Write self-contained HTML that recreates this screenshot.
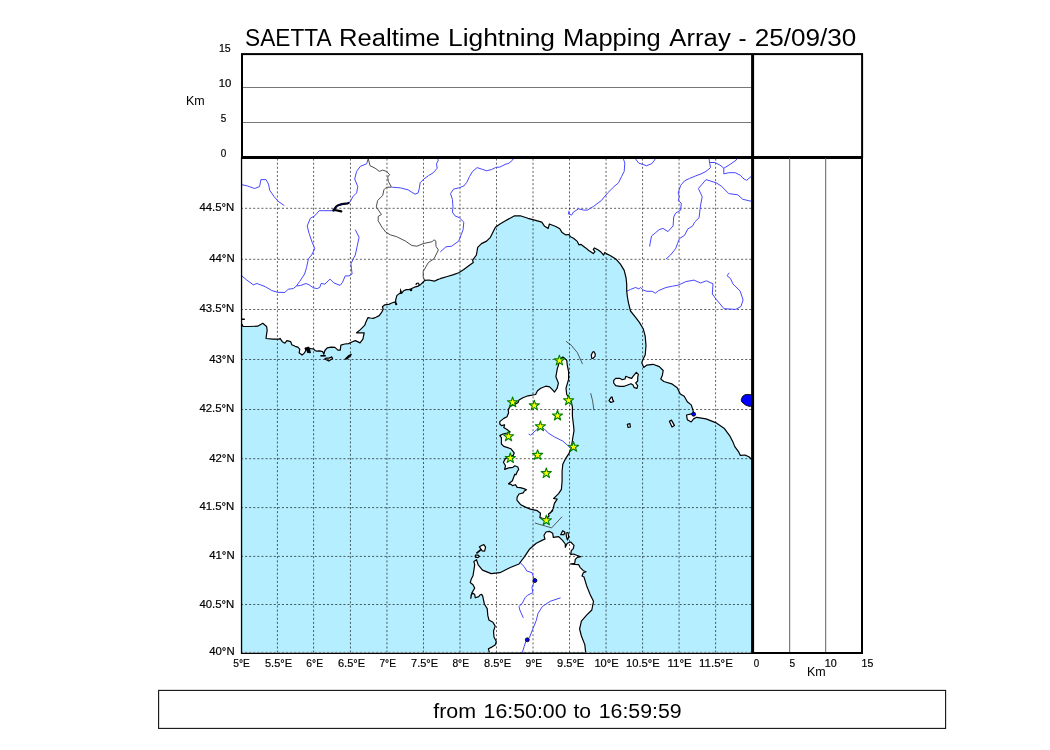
<!DOCTYPE html>
<html><head><meta charset="utf-8"><style>
html,body{margin:0;padding:0;background:#fff;}
svg{display:block;}
text{font-family:"Liberation Sans",sans-serif;fill:#000;}
text.s{stroke:#000;stroke-width:0.2px;}
</style></head><body>
<svg width="1050" height="750" viewBox="0 0 1050 750">
<clipPath id="mc"><rect x="240.9" y="156.9" width="511.30000000000007" height="495.70000000000005"/></clipPath>
<g clip-path="url(#mc)">
<rect x="240.9" y="156.9" width="511.30000000000007" height="495.70000000000005" fill="#fff"/>
<path d="M241.5,323.5 L243.0,326.4 L247.6,326.5 L257.7,326.2 L262.8,323.3 L266.6,326.5 L267.2,330.3 L266.6,334.1 L266.0,338.5 L272.9,339.1 L279.3,339.1 L280.0,338.3 L282.3,341.7 L284.9,343.2 L286.9,340.6 L290.7,341.7 L291.8,344.8 L295.2,346.3 L297.9,347.1 L299.8,349.3 L299.1,352.8 L302.1,355.1 L304.4,352.8 L305.9,350.5 L305.1,348.2 L308.2,347.8 L310.5,348.6 L313.5,348.9 L315.1,350.5 L316.6,351.2 L319.6,350.9 L322.7,351.6 L323.8,354.3 L324.9,350.5 L327.2,347.8 L331.1,347.1 L334.9,347.4 L337.9,350.1 L340.2,350.1 L340.9,345.1 L344.8,344.0 L348.6,343.6 L352.4,341.7 L355.4,340.6 L358.5,342.1 L360.0,342.9 L362.9,339.1 L364.2,332.8 L356.6,332.8 L360.4,329.6 L364.8,325.2 L365.6,322.8 L368.0,317.6 L370.4,318.0 L373.2,318.4 L376.0,317.2 L379.2,315.6 L381.6,312.4 L383.2,309.2 L382.4,306.8 L384.8,304.8 L388.8,304.4 L391.2,303.2 L394.4,302.0 L396.0,303.6 L395.6,300.4 L396.8,295.6 L399.2,293.6 L401.6,293.2 L403.6,290.8 L406.4,289.6 L408.8,289.6 L411.2,288.8 L414.4,287.2 L417.6,286.4 L420.8,284.4 L423.2,282.0 L424.8,280.4 L428.8,280.0 L434.4,281.2 L437.6,279.6 L440.0,278.8 L441.0,278.4 L447.3,276.5 L453.6,274.6 L458.7,272.7 L463.8,269.6 L468.8,265.8 L473.3,262.6 L472.6,260.1 L476.4,255.0 L477.7,247.4 L481.5,243.6 L486.6,241.1 L490.4,237.3 L492.9,232.2 L495.4,227.2 L500.0,224.0 L507.6,219.6 L514.6,215.8 L520.3,215.8 L527.9,218.3 L532.9,219.6 L541.8,222.1 L544.3,225.9 L548.2,228.4 L549.4,224.0 L555.8,226.5 L559.8,228.8 L562.1,232.6 L565.9,234.9 L569.0,234.5 L570.5,236.8 L573.5,238.3 L577.3,241.4 L578.9,244.8 L581.1,244.4 L585.7,247.9 L588.8,250.5 L593.3,253.6 L594.9,251.7 L593.3,249.4 L594.5,247.9 L597.9,249.8 L601.0,252.1 L603.6,255.1 L604.8,252.4 L606.3,253.6 L610.1,255.5 L616.2,259.3 L620.4,264.1 L624.2,270.4 L626.1,278.0 L626.7,284.3 L626.7,290.7 L627.4,297.0 L628.6,303.4 L630.5,311.0 L635.6,317.3 L639.4,322.4 L643.2,328.7 L645.2,336.2 L646.0,345.6 L645.2,355.0 L642.9,359.6 L641.8,362.7 L643.7,367.4 L646.8,365.1 L653.0,364.3 L659.3,366.6 L663.2,370.5 L662.4,375.2 L660.8,379.1 L663.9,381.5 L671.7,383.8 L677.2,387.7 L680.3,393.9 L684.2,396.3 L687.3,401.7 L691.2,404.9 L692.8,409.5 L693.6,413.4 L686.5,415.0 L687.3,419.7 L691.2,422.0 L693.6,418.9 L696.7,417.3 L706.0,418.9 L715.6,422.6 L724.4,428.6 L730.0,436.2 L733.2,442.6 L734.8,446.6 L738.8,452.2 L740.4,455.4 L745.2,455.0 L749.2,457.0 L751.6,459.4 L753.0,460.0 L760.0,460.0 L760.0,660.0 L230.0,660.0 L230.0,326.5 Z" fill="#b5eeff" stroke="none"/>
<path d="M562.9,357.1 L564.8,358.4 L566.7,360.3 L567.3,365.3 L568.6,371.7 L568.6,379.3 L566.0,388.2 L566.7,394.5 L571.1,400.8 L572.4,407.2 L572.4,416.0 L573.6,426.2 L574.0,430.6 L572.6,439.0 L571.2,448.8 L568.4,454.4 L565.6,458.6 L562.8,464.2 L562.1,471.2 L562.1,481.0 L561.4,489.4 L558.6,493.6 L555.8,496.4 L553.7,498.5 L557.2,499.2 L554.4,503.4 L553.0,509.0 L550.2,513.2 L552.7,510.7 L548.5,513.9 L549.0,516.0 L546.0,519.0 L542.6,518.3 L539.9,517.6 L540.5,513.3 L537.3,510.7 L530.3,509.1 L525.0,506.9 L520.8,504.8 L517.3,500.6 L516.9,500.0 L517.2,497.0 L519.0,494.0 L523.2,492.8 L524.4,491.0 L526.5,489.8 L523.8,488.6 L520.2,487.7 L517.2,487.4 L515.4,484.7 L512.4,485.6 L511.2,484.4 L508.5,483.8 L512.4,480.8 L513.0,479.0 L514.8,474.2 L516.0,474.8 L517.2,471.8 L518.7,469.4 L517.8,467.0 L514.8,465.8 L513.0,467.3 L508.8,467.9 L504.6,469.4 L505.5,465.8 L503.4,462.2 L505.4,458.6 L513.4,455.2 L514.2,452.8 L511.0,448.8 L503.8,446.4 L501.4,444.0 L501.4,437.6 L499.8,435.6 L503.0,434.0 L507.0,433.0 L510.2,432.0 L507.0,429.6 L503.8,427.6 L504.6,424.8 L501.4,425.6 L499.8,424.0 L499.8,421.6 L503.8,418.4 L507.0,416.8 L508.6,412.8 L508.2,409.6 L510.2,406.4 L514.2,404.8 L518.2,402.4 L519.0,400.0 L522.9,397.7 L528.0,395.8 L535.6,394.5 L537.5,390.7 L540.7,388.2 L545.8,386.2 L549.6,386.9 L552.1,389.4 L554.6,392.0 L557.2,388.2 L558.4,383.1 L555.9,376.7 L557.2,369.1 L559.1,362.8 L560.3,359.0 Z" fill="#fff" stroke="none"/>
<path d="M489.5,653.0 L489.5,652.8 L488.4,648.8 L491.8,647.1 L495.2,644.9 L496.3,641.5 L494.0,636.9 L493.5,631.2 L495.2,626.1 L492.9,622.2 L488.9,619.9 L487.8,615.4 L487.2,608.6 L484.4,604.0 L482.7,596.1 L481.6,594.4 L479.9,595.0 L478.7,596.6 L475.3,597.8 L474.7,594.4 L473.0,593.2 L471.3,594.4 L470.8,598.4 L471.9,592.7 L474.7,588.1 L473.0,584.7 L470.2,582.5 L471.3,579.1 L473.0,575.7 L473.9,570.1 L474.7,564.9 L473.9,561.4 L476.5,559.7 L478.2,564.9 L482.5,570.1 L491.2,573.6 L499.9,572.7 L510.3,567.5 L519.0,564.0 L524.2,557.1 L529.4,549.3 L536.3,543.2 L545.0,538.9 L544.7,538.0 L544.0,535.3 L546.0,532.0 L549.3,531.3 L552.7,533.3 L553.3,537.3 L558.7,536.7 L562.7,540.7 L565.3,544.0 L565.3,547.3 L567.3,543.3 L570.7,542.0 L574.0,545.3 L573.3,548.7 L571.3,550.7 L570.7,554.7 L573.3,554.0 L576.7,555.3 L580.7,556.7 L577.3,557.3 L575.3,559.3 L574.7,563.3 L570.0,564.0 L574.7,564.3 L578.7,564.7 L580.0,567.3 L583.3,570.7 L586.0,571.7 L583.3,572.7 L582.0,576.0 L584.0,577.0 L586.6,585.7 L590.1,594.4 L593.5,601.3 L591.8,610.0 L586.6,615.2 L581.4,621.2 L579.6,629.0 L581.4,636.0 L584.8,644.6 L585.7,652.6 Z" fill="#fff" stroke="none"/>
<path d="M613.7,380.3 L615.7,378.3 L619.7,378.3 L622.3,379.7 L625.0,379.0 L625.7,376.3 L628.3,377.3 L631.7,378.3 L633.0,376.3 L636.3,372.3 L638.3,374.3 L637.7,377.7 L637.7,381.0 L635.7,383.0 L637.7,385.7 L637.0,388.3 L634.3,387.7 L633.0,385.0 L631.0,383.7 L627.7,385.0 L624.3,386.3 L619.7,386.3 L615.7,385.7 L613.7,383.0 Z" fill="#fff" stroke="none"/>
<path d="M482.2,545.2 L483.8,544.6 L485.6,547.2 L484.6,551.2 L482.2,550.8 L481.0,549.2 L479.4,546.8 Z" fill="#fff" stroke="none"/>
<path d="M475.4,555.2 L478.2,555.2 L479.4,556.4 L477.8,557.6 L475.4,557.2 Z" fill="#fff" stroke="none"/>
<path d="M560.7,534.7 L562.7,530.7 L564.7,532.0 L564.0,534.7 Z" fill="#fff" stroke="none"/>
<path d="M566.0,533.0 L568.0,532.5 L568.7,537.0 L567.5,540.0 L566.5,537.0 Z" fill="#fff" stroke="none"/>
<path d="M591.7,358.3 L591.3,355.0 L592.7,352.0 L594.0,351.7 L595.3,354.0 L595.0,356.3 L593.0,358.3 Z" fill="#fff" stroke="none"/>
<path d="M609.0,400.5 L610.9,402.5 L613.7,401.4 L612.5,399.4 L612.2,397.1 L611.2,397.1 Z" fill="#fff" stroke="none"/>
<path d="M627.3,424.3 L628.1,427.5 L630.4,427.0 L629.9,423.6 Z" fill="#fff" stroke="none"/>
<path d="M669.4,421.2 L672.0,427.0 L674.4,425.4 L671.4,420.1 Z" fill="#fff" stroke="none"/>
<path d="M324.9,358.9 L328.8,361.1 L332.6,358.5 L331.8,356.9 L329.1,358.1 L326.5,358.1 Z" fill="#fff" stroke="none"/>
<path d="M345.1,359.2 L348.6,355.8 L351.2,354.4 L350.5,355.8 L346.7,359.0 Z" fill="#fff" stroke="none"/>
<path d="M277.42,652.6 L277.42,156.9 M313.60,652.6 L313.60,156.9 M350.44,652.6 L350.44,156.9 M386.96,652.6 L386.96,156.9 M423.48,652.6 L423.48,156.9 M459.99,652.6 L459.99,156.9 M496.50,652.6 L496.50,156.9 M533.02,652.6 L533.02,156.9 M569.53,652.6 L569.53,156.9 M606.05,652.6 L606.05,156.9 M642.57,652.6 L642.57,156.9 M679.08,652.6 L679.08,156.9 M715.60,652.6 L715.60,156.9 M240.9,652.40 L752.2,652.40 M240.9,604.50 L752.2,604.50 M240.9,556.40 L752.2,556.40 M240.9,507.60 L752.2,507.60 M240.9,458.70 L752.2,458.70 M240.9,409.50 L752.2,409.50 M240.9,359.50 L752.2,359.50 M240.9,309.50 L752.2,309.50 M240.9,259.30 L752.2,259.30 M240.9,208.30 L752.2,208.30" fill="none" stroke="#000" stroke-opacity="0.62" stroke-width="1" stroke-dasharray="2.05,2.05"/>
<path d="M241.9,184.7 L247.6,186.0 L254.6,188.5 L259.6,186.6 L260.9,179.6 L266.0,179.6 L268.5,184.1 L269.8,190.4 L274.2,196.7 L278.0,201.2 L284.3,205.6" fill="none" stroke="#4747ff" stroke-width="1" stroke-linejoin="round"/>
<path d="M368.5,157.5 L366.7,163.8 L360.4,166.3 L356.6,171.4 L354.7,179.0 L357.8,186.6 L356.6,192.9 L352.8,196.7 L350.2,201.8 L348.6,202.9" fill="none" stroke="#4747ff" stroke-width="1" stroke-linejoin="round"/>
<path d="M334.4,210.7 L323.6,210.7 L319.2,210.7 L314.8,215.8 L310.3,218.3 L307.2,225.9 L309.1,233.5 L312.2,242.4 L314.8,248.7 L311.6,255.0 L308.4,258.8 L306.5,267.7 L304.6,274.0 L299.6,281.6 L296.4,286.0" fill="none" stroke="#4747ff" stroke-width="1" stroke-linejoin="round"/>
<path d="M241.9,275.9 L246.3,279.7 L253.3,284.8 L257.1,283.5 L265.3,286.7 L271.7,290.5 L278.0,292.4 L285.0,292.4 L288.2,289.2 L293.2,288.6 L296.4,286.0 L300.8,285.4 L305.9,283.5 L309.1,284.8 L313.5,287.9 L317.3,288.6 L319.8,287.3 L321.1,283.5 L324.9,284.1 L330.0,279.1 L333.8,282.9 L340.1,285.4 L342.6,282.2 L345.2,275.9 L349.0,275.9 L352.1,274.0 L351.5,268.9 L350.9,263.9 L354.0,257.5 L355.3,255.0 L357.2,246.2 L359.1,237.3 L355.3,229.7" fill="none" stroke="#4747ff" stroke-width="1" stroke-linejoin="round"/>
<path d="M438.4,160.0 L436.5,163.8 L437.2,168.2 L433.4,172.7 L428.3,175.8 L423.9,179.0 L420.1,182.8 L419.4,187.9 L418.2,192.9 L415.0,194.2 L408.0,189.8 L400.4,187.9 L392.2,187.2" fill="none" stroke="#4747ff" stroke-width="1" stroke-linejoin="round"/>
<path d="M436.5,157.5 L438.4,160.0" fill="none" stroke="#4747ff" stroke-width="1" stroke-linejoin="round"/>
<path d="M440.3,251.9 L446.0,246.8 L451.7,246.2 L458.7,241.1 L461.2,234.8 L463.1,229.7 L463.8,222.1 L459.3,217.7 L454.9,215.8 L452.4,212.0 L453.0,206.9 L452.4,199.3 L450.5,193.6 L453.6,189.1 L458.7,187.9 L463.8,186.0 L466.9,182.2 L469.5,176.5 L472.6,171.4 L477.1,167.6 L482.8,169.5 L486.6,170.8 L491.6,169.5 L495.4,167.6 L500.0,167.0 L505.1,164.4 L508.9,163.2 L512.7,160.0 L513.5,157.5" fill="none" stroke="#4747ff" stroke-width="1" stroke-linejoin="round"/>
<path d="M623.0,157.5 L624.8,163.2 L624.2,171.4 L621.6,176.5 L618.5,182.8 L614.0,186.6 L607.7,192.9 L601.4,200.5 L593.8,206.2 L587.4,210.1 L583.6,210.1 L578.6,208.8 L573.5,212.0 L571.6,215.1 L568.4,213.9 L569.1,210.7" fill="none" stroke="#4747ff" stroke-width="1" stroke-linejoin="round"/>
<path d="M634.5,157.5 L636.3,160.0 L638.9,163.2 L646.5,165.7 L651.5,163.8 L654.7,160.0 L655.5,157.5" fill="none" stroke="#4747ff" stroke-width="1" stroke-linejoin="round"/>
<path d="M709.0,157.5 L709.2,160.0 L709.8,163.8 L710.5,167.6 L706.0,171.4 L701.0,173.9 L695.9,175.8 L689.6,178.4 L684.5,180.9 L680.7,185.3 L678.2,192.9 L679.4,196.7 L678.2,200.5 L681.3,203.1 L680.7,210.1 L675.6,213.2 L673.7,217.0 L673.1,225.9 L668.0,231.6 L662.9,228.4 L659.1,229.7 L655.3,232.9 L651.5,236.0 L649.6,246.2 L650.2,246.3" fill="none" stroke="#4747ff" stroke-width="1" stroke-linejoin="round"/>
<path d="M709.2,162.5 L714.9,162.5 L720.0,165.1 L723.8,168.2 L723.8,173.9 L728.8,172.7 L735.2,172.7 L740.2,175.2 L744.0,179.0 L746.6,180.3 L751.0,176.5" fill="none" stroke="#4747ff" stroke-width="1" stroke-linejoin="round"/>
<path d="M723.8,168.2 L730.1,164.4 L736.4,160.0 L737.0,157.5" fill="none" stroke="#4747ff" stroke-width="1" stroke-linejoin="round"/>
<path d="M751.0,201.2 L742.8,199.3 L737.7,194.8 L728.8,193.6 L721.2,186.0 L716.2,182.8 L706.0,179.6 L698.4,188.5 L702.2,196.7 L700.3,206.9 L699.1,217.7 L694.6,222.1 L692.7,225.9 L687.7,229.1 L684.5,235.4 L679.4,238.6 L677.5,243.6 L675.6,248.7 L670.5,255.0 L666.0,259.0" fill="none" stroke="#4747ff" stroke-width="1" stroke-linejoin="round"/>
<path d="M626.7,291.3 L630.5,289.4 L635.6,287.5 L638.8,288.8 L640.7,287.5 L643.2,290.1 L647.0,291.3 L652.1,291.3 L655.3,293.2 L658.4,290.7 L666.0,287.5 L672.4,286.2 L678.7,285.0 L685.9,281.6 L693.9,280.1 L700.6,283.0 L706.4,280.8 L713.0,283.8 L712.3,294.0 L716.7,299.9 L724.0,308.7 L735.8,309.4 L740.9,306.5 L743.1,299.9 L740.2,291.1 L732.8,283.8 L730.6,278.6 L727.0,275.7 L729.2,272.8" fill="none" stroke="#4747ff" stroke-width="1" stroke-linejoin="round"/>
<path d="M540.4,426.2 L544.5,429.3 L548.8,433.4 L554.4,436.9 L562.8,441.1 L568.4,446.0 L571.2,448.8" fill="none" stroke="#4747ff" stroke-width="1" stroke-linejoin="round"/>
<path d="M528.6,434.0 L530.6,435.2 L536.6,429.6 L540.4,426.2" fill="none" stroke="#4747ff" stroke-width="1" stroke-linejoin="round"/>
<path d="M519.8,562.3 L524.2,566.6 L526.8,571.0 L532.0,572.7 L534.6,580.5 L532.0,587.4 L532.8,592.6 L527.6,595.2 L525.0,597.8 L522.4,603.0 L519.0,606.5 L519.8,610.0 L523.3,617.8" fill="none" stroke="#4747ff" stroke-width="1" stroke-linejoin="round"/>
<path d="M560.6,597.8 L550.2,601.3 L542.4,606.5 L538.0,613.4 L536.3,620.4 L532.8,629.0 L529.4,637.7 L525.9,641.2 L524.2,646.4 L522.4,652.4 L520.5,652.6" fill="none" stroke="#4747ff" stroke-width="1" stroke-linejoin="round"/>
<path d="M368.0,157.5 L370.0,165.7 L375.1,168.2 L379.5,171.4 L382.7,170.1 L386.5,171.4 L389.6,174.6 L387.7,177.1 L388.4,181.5 L391.5,187.2 L386.5,187.2 L383.9,189.8 L382.7,195.5 L377.6,200.5 L376.3,206.9 L381.4,214.5 L378.2,216.4 L378.2,220.8 L382.0,227.2 L385.8,232.2 L390.3,234.8 L396.6,236.7 L405.5,241.1 L411.8,245.5 L416.9,246.2 L423.2,243.6 L432.1,241.7 L434.0,239.8 L435.9,241.1 L435.9,246.2 L438.4,250.0 L435.9,255.0 L434.0,258.8 L428.3,262.6 L425.8,267.0 L423.2,271.5 L423.2,277.2 L425.1,280.3" fill="none" stroke="#3a3a3a" stroke-width="0.9" stroke-linejoin="round"/>
<path d="M241.5,323.5 L243.0,326.4 L247.6,326.5 L257.7,326.2 L262.8,323.3 L266.6,326.5 L267.2,330.3 L266.6,334.1 L266.0,338.5 L272.9,339.1 L279.3,339.1 L280.0,338.3 L282.3,341.7 L284.9,343.2 L286.9,340.6 L290.7,341.7 L291.8,344.8 L295.2,346.3 L297.9,347.1 L299.8,349.3 L299.1,352.8 L302.1,355.1 L304.4,352.8 L305.9,350.5 L305.1,348.2 L308.2,347.8 L310.5,348.6 L313.5,348.9 L315.1,350.5 L316.6,351.2 L319.6,350.9 L322.7,351.6 L323.8,354.3 L324.9,350.5 L327.2,347.8 L331.1,347.1 L334.9,347.4 L337.9,350.1 L340.2,350.1 L340.9,345.1 L344.8,344.0 L348.6,343.6 L352.4,341.7 L355.4,340.6 L358.5,342.1 L360.0,342.9 L362.9,339.1 L364.2,332.8 L356.6,332.8 L360.4,329.6 L364.8,325.2 L365.6,322.8 L368.0,317.6 L370.4,318.0 L373.2,318.4 L376.0,317.2 L379.2,315.6 L381.6,312.4 L383.2,309.2 L382.4,306.8 L384.8,304.8 L388.8,304.4 L391.2,303.2 L394.4,302.0 L396.0,303.6 L395.6,300.4 L396.8,295.6 L399.2,293.6 L401.6,293.2 L403.6,290.8 L406.4,289.6 L408.8,289.6 L411.2,288.8 L414.4,287.2 L417.6,286.4 L420.8,284.4 L423.2,282.0 L424.8,280.4 L428.8,280.0 L434.4,281.2 L437.6,279.6 L440.0,278.8 L441.0,278.4 L447.3,276.5 L453.6,274.6 L458.7,272.7 L463.8,269.6 L468.8,265.8 L473.3,262.6 L472.6,260.1 L476.4,255.0 L477.7,247.4 L481.5,243.6 L486.6,241.1 L490.4,237.3 L492.9,232.2 L495.4,227.2 L500.0,224.0 L507.6,219.6 L514.6,215.8 L520.3,215.8 L527.9,218.3 L532.9,219.6 L541.8,222.1 L544.3,225.9 L548.2,228.4 L549.4,224.0 L555.8,226.5 L559.8,228.8 L562.1,232.6 L565.9,234.9 L569.0,234.5 L570.5,236.8 L573.5,238.3 L577.3,241.4 L578.9,244.8 L581.1,244.4 L585.7,247.9 L588.8,250.5 L593.3,253.6 L594.9,251.7 L593.3,249.4 L594.5,247.9 L597.9,249.8 L601.0,252.1 L603.6,255.1 L604.8,252.4 L606.3,253.6 L610.1,255.5 L616.2,259.3 L620.4,264.1 L624.2,270.4 L626.1,278.0 L626.7,284.3 L626.7,290.7 L627.4,297.0 L628.6,303.4 L630.5,311.0 L635.6,317.3 L639.4,322.4 L643.2,328.7 L645.2,336.2 L646.0,345.6 L645.2,355.0 L642.9,359.6 L641.8,362.7 L643.7,367.4 L646.8,365.1 L653.0,364.3 L659.3,366.6 L663.2,370.5 L662.4,375.2 L660.8,379.1 L663.9,381.5 L671.7,383.8 L677.2,387.7 L680.3,393.9 L684.2,396.3 L687.3,401.7 L691.2,404.9 L692.8,409.5 L693.6,413.4 L686.5,415.0 L687.3,419.7 L691.2,422.0 L693.6,418.9 L696.7,417.3 L706.0,418.9 L715.6,422.6 L724.4,428.6 L730.0,436.2 L733.2,442.6 L734.8,446.6 L738.8,452.2 L740.4,455.4 L745.2,455.0 L749.2,457.0 L751.6,459.4 L753.0,460.0" fill="none" stroke="#000" stroke-width="1.2" stroke-linejoin="round"/>
<path d="M241.5,319.2 L244.8,319.2" stroke="#000" stroke-width="1.4"/>
<path d="M562.9,357.1 L564.8,358.4 L566.7,360.3 L567.3,365.3 L568.6,371.7 L568.6,379.3 L566.0,388.2 L566.7,394.5 L571.1,400.8 L572.4,407.2 L572.4,416.0 L573.6,426.2 L574.0,430.6 L572.6,439.0 L571.2,448.8 L568.4,454.4 L565.6,458.6 L562.8,464.2 L562.1,471.2 L562.1,481.0 L561.4,489.4 L558.6,493.6 L555.8,496.4 L553.7,498.5 L557.2,499.2 L554.4,503.4 L553.0,509.0 L550.2,513.2 L552.7,510.7 L548.5,513.9 L549.0,516.0 L546.0,519.0 L542.6,518.3 L539.9,517.6 L540.5,513.3 L537.3,510.7 L530.3,509.1 L525.0,506.9 L520.8,504.8 L517.3,500.6 L516.9,500.0 L517.2,497.0 L519.0,494.0 L523.2,492.8 L524.4,491.0 L526.5,489.8 L523.8,488.6 L520.2,487.7 L517.2,487.4 L515.4,484.7 L512.4,485.6 L511.2,484.4 L508.5,483.8 L512.4,480.8 L513.0,479.0 L514.8,474.2 L516.0,474.8 L517.2,471.8 L518.7,469.4 L517.8,467.0 L514.8,465.8 L513.0,467.3 L508.8,467.9 L504.6,469.4 L505.5,465.8 L503.4,462.2 L505.4,458.6 L513.4,455.2 L514.2,452.8 L511.0,448.8 L503.8,446.4 L501.4,444.0 L501.4,437.6 L499.8,435.6 L503.0,434.0 L507.0,433.0 L510.2,432.0 L507.0,429.6 L503.8,427.6 L504.6,424.8 L501.4,425.6 L499.8,424.0 L499.8,421.6 L503.8,418.4 L507.0,416.8 L508.6,412.8 L508.2,409.6 L510.2,406.4 L514.2,404.8 L518.2,402.4 L519.0,400.0 L522.9,397.7 L528.0,395.8 L535.6,394.5 L537.5,390.7 L540.7,388.2 L545.8,386.2 L549.6,386.9 L552.1,389.4 L554.6,392.0 L557.2,388.2 L558.4,383.1 L555.9,376.7 L557.2,369.1 L559.1,362.8 L560.3,359.0 Z" fill="none" stroke="#000" stroke-width="1.2" stroke-linejoin="round"/>
<path d="M489.5,653.0 L489.5,652.8 L488.4,648.8 L491.8,647.1 L495.2,644.9 L496.3,641.5 L494.0,636.9 L493.5,631.2 L495.2,626.1 L492.9,622.2 L488.9,619.9 L487.8,615.4 L487.2,608.6 L484.4,604.0 L482.7,596.1 L481.6,594.4 L479.9,595.0 L478.7,596.6 L475.3,597.8 L474.7,594.4 L473.0,593.2 L471.3,594.4 L470.8,598.4 L471.9,592.7 L474.7,588.1 L473.0,584.7 L470.2,582.5 L471.3,579.1 L473.0,575.7 L473.9,570.1 L474.7,564.9 L473.9,561.4 L476.5,559.7 L478.2,564.9 L482.5,570.1 L491.2,573.6 L499.9,572.7 L510.3,567.5 L519.0,564.0 L524.2,557.1 L529.4,549.3 L536.3,543.2 L545.0,538.9 L544.7,538.0 L544.0,535.3 L546.0,532.0 L549.3,531.3 L552.7,533.3 L553.3,537.3 L558.7,536.7 L562.7,540.7 L565.3,544.0 L565.3,547.3 L567.3,543.3 L570.7,542.0 L574.0,545.3 L573.3,548.7 L571.3,550.7 L570.7,554.7 L573.3,554.0 L576.7,555.3 L580.7,556.7 L577.3,557.3 L575.3,559.3 L574.7,563.3 L570.0,564.0 L574.7,564.3 L578.7,564.7 L580.0,567.3 L583.3,570.7 L586.0,571.7 L583.3,572.7 L582.0,576.0 L584.0,577.0 L586.6,585.7 L590.1,594.4 L593.5,601.3 L591.8,610.0 L586.6,615.2 L581.4,621.2 L579.6,629.0 L581.4,636.0 L584.8,644.6 L585.7,652.6 Z" fill="none" stroke="#000" stroke-width="1.2" stroke-linejoin="round"/>
<path d="M613.7,380.3 L615.7,378.3 L619.7,378.3 L622.3,379.7 L625.0,379.0 L625.7,376.3 L628.3,377.3 L631.7,378.3 L633.0,376.3 L636.3,372.3 L638.3,374.3 L637.7,377.7 L637.7,381.0 L635.7,383.0 L637.7,385.7 L637.0,388.3 L634.3,387.7 L633.0,385.0 L631.0,383.7 L627.7,385.0 L624.3,386.3 L619.7,386.3 L615.7,385.7 L613.7,383.0 Z" fill="none" stroke="#000" stroke-width="1.2" stroke-linejoin="round"/>
<path d="M482.2,545.2 L483.8,544.6 L485.6,547.2 L484.6,551.2 L482.2,550.8 L481.0,549.2 L479.4,546.8 Z" fill="none" stroke="#000" stroke-width="1.2" stroke-linejoin="round"/>
<path d="M475.4,555.2 L478.2,555.2 L479.4,556.4 L477.8,557.6 L475.4,557.2 Z" fill="none" stroke="#000" stroke-width="1.2" stroke-linejoin="round"/>
<path d="M560.7,534.7 L562.7,530.7 L564.7,532.0 L564.0,534.7 Z" fill="none" stroke="#000" stroke-width="1.2" stroke-linejoin="round"/>
<path d="M566.0,533.0 L568.0,532.5 L568.7,537.0 L567.5,540.0 L566.5,537.0 Z" fill="none" stroke="#000" stroke-width="1.2" stroke-linejoin="round"/>
<path d="M591.7,358.3 L591.3,355.0 L592.7,352.0 L594.0,351.7 L595.3,354.0 L595.0,356.3 L593.0,358.3 Z" fill="none" stroke="#000" stroke-width="1.2" stroke-linejoin="round"/>
<path d="M609.0,400.5 L610.9,402.5 L613.7,401.4 L612.5,399.4 L612.2,397.1 L611.2,397.1 Z" fill="none" stroke="#000" stroke-width="1.2" stroke-linejoin="round"/>
<path d="M627.3,424.3 L628.1,427.5 L630.4,427.0 L629.9,423.6 Z" fill="none" stroke="#000" stroke-width="1.2" stroke-linejoin="round"/>
<path d="M669.4,421.2 L672.0,427.0 L674.4,425.4 L671.4,420.1 Z" fill="none" stroke="#000" stroke-width="1.2" stroke-linejoin="round"/>
<path d="M324.9,358.9 L328.8,361.1 L332.6,358.5 L331.8,356.9 L329.1,358.1 L326.5,358.1 Z" fill="none" stroke="#000" stroke-width="1.2" stroke-linejoin="round"/>
<path d="M345.1,359.2 L348.6,355.8 L351.2,354.4 L350.5,355.8 L346.7,359.0 Z" fill="none" stroke="#000" stroke-width="1.2" stroke-linejoin="round"/>
<path d="M400.2,293.8 L400.6,290.2 L402.0,293.5" fill="none" stroke="#000" stroke-width="1.1"/>
<path d="M416.0,285.2 L416.4,283.4 L418.2,283.0 L419.2,284.2 L418.4,285.6" fill="none" stroke="#000" stroke-width="1.1"/>
<path d="M481.0,549.6 L476.4,553.4" fill="#000" stroke="#000" stroke-width="1.6" stroke-linejoin="round"/>
<path d="M305.5,348.9 L308.2,347.4 L309.3,349.7 L310.1,352.4 L307.1,352.0" fill="#000" stroke="#000" stroke-width="1.6" stroke-linejoin="round"/>
<path d="M320.4,355.8 L325.7,355.8" fill="#000" stroke="#000" stroke-width="1.6" stroke-linejoin="round"/>
<circle cx="396.2" cy="304.2" r="1.1" fill="#000"/>
<circle cx="411.0" cy="290.0" r="1.3" fill="#000"/>
<path d="M341.3,211.3 L335.0,210.0 L333.3,210.5 L336.0,206.8 L337.6,205.5 L341.9,204.1 L347.7,203.3 L348.6,202.9" fill="none" stroke="#000" stroke-width="2.2" stroke-linejoin="round" stroke-linecap="round"/>
<path d="M333.3,210.5 L336.0,206.8 L337.6,205.5 L341.9,204.1 L347.7,203.3 L348.6,202.9" fill="none" stroke="#0000cc" stroke-width="0.45" stroke-opacity="0.8" stroke-linejoin="round" stroke-linecap="round"/>
<path d="M741.3,399.5 L742.5,396.5 L745.0,394.7 L748.0,394.5 L752.5,395.0 L752.5,406.0 L749.0,406.3 L745.5,405.0 L743.0,403.0 L741.5,401.5 Z" fill="#0000ff" stroke="#000" stroke-width="0.9"/>
<circle cx="693.6" cy="414.2" r="2.0" fill="#0000ff" stroke="#000" stroke-width="0.8"/>
<circle cx="534.9" cy="580.5" r="2.0" fill="#0000ff" stroke="#000" stroke-width="0.8"/>
<circle cx="527.3" cy="639.8" r="2.0" fill="#0000ff" stroke="#000" stroke-width="0.8"/>
<path d="M566.0,341.3 L571.1,345.1 L577.4,352.7 L582.5,364.1" fill="none" stroke="#333" stroke-width="0.8"/>
<path d="M590.7,393.2 L592.6,400.8 L593.9,410.3" fill="none" stroke="#333" stroke-width="0.8"/>
<path d="M534.8,523.0 L551.6,527.9 L562.1,516.7" fill="none" stroke="#333" stroke-width="0.8"/>
<path d="M559.4,355.2 L560.6,358.9 L564.5,358.9 L561.4,361.2 L562.6,364.9 L559.4,362.6 L556.2,364.9 L557.4,361.2 L554.3,358.9 L558.2,358.9 Z" fill="#ffff00" stroke="#008000" stroke-width="1.1" stroke-linejoin="round"/>
<path d="M512.6,397.0 L513.8,400.7 L517.7,400.7 L514.6,403.0 L515.8,406.7 L512.6,404.4 L509.4,406.7 L510.6,403.0 L507.5,400.7 L511.4,400.7 Z" fill="#ffff00" stroke="#008000" stroke-width="1.1" stroke-linejoin="round"/>
<path d="M534.3,400.2 L535.5,403.9 L539.4,403.9 L536.3,406.2 L537.5,409.9 L534.3,407.6 L531.1,409.9 L532.3,406.2 L529.2,403.9 L533.1,403.9 Z" fill="#ffff00" stroke="#008000" stroke-width="1.1" stroke-linejoin="round"/>
<path d="M568.6,395.1 L569.8,398.8 L573.7,398.8 L570.6,401.1 L571.8,404.8 L568.6,402.5 L565.4,404.8 L566.6,401.1 L563.5,398.8 L567.4,398.8 Z" fill="#ffff00" stroke="#008000" stroke-width="1.1" stroke-linejoin="round"/>
<path d="M557.5,410.2 L558.7,414.0 L562.6,414.0 L559.5,416.3 L560.7,420.0 L557.5,417.7 L554.3,420.0 L555.5,416.3 L552.4,414.0 L556.3,414.0 Z" fill="#ffff00" stroke="#008000" stroke-width="1.1" stroke-linejoin="round"/>
<path d="M540.4,421.1 L541.6,424.8 L545.5,424.8 L542.4,427.1 L543.6,430.8 L540.4,428.5 L537.2,430.8 L538.4,427.1 L535.3,424.8 L539.2,424.8 Z" fill="#ffff00" stroke="#008000" stroke-width="1.1" stroke-linejoin="round"/>
<path d="M508.5,431.1 L509.7,434.8 L513.6,434.8 L510.5,437.1 L511.7,440.8 L508.5,438.5 L505.3,440.8 L506.5,437.1 L503.4,434.8 L507.3,434.8 Z" fill="#ffff00" stroke="#008000" stroke-width="1.1" stroke-linejoin="round"/>
<path d="M573.5,441.6 L574.7,445.3 L578.6,445.3 L575.5,447.6 L576.7,451.3 L573.5,449.0 L570.3,451.3 L571.5,447.6 L568.4,445.3 L572.3,445.3 Z" fill="#ffff00" stroke="#008000" stroke-width="1.1" stroke-linejoin="round"/>
<path d="M537.6,449.7 L538.8,453.4 L542.7,453.4 L539.6,455.7 L540.8,459.4 L537.6,457.1 L534.4,459.4 L535.6,455.7 L532.5,453.4 L536.4,453.4 Z" fill="#ffff00" stroke="#008000" stroke-width="1.1" stroke-linejoin="round"/>
<path d="M510.3,452.8 L511.5,456.5 L515.4,456.5 L512.3,458.8 L513.5,462.5 L510.3,460.2 L507.1,462.5 L508.3,458.8 L505.2,456.5 L509.1,456.5 Z" fill="#ffff00" stroke="#008000" stroke-width="1.1" stroke-linejoin="round"/>
<path d="M546.3,467.9 L547.5,471.6 L551.4,471.6 L548.3,473.9 L549.5,477.6 L546.3,475.3 L543.1,477.6 L544.3,473.9 L541.2,471.6 L545.1,471.6 Z" fill="#ffff00" stroke="#008000" stroke-width="1.1" stroke-linejoin="round"/>
<path d="M546.3,515.1 L547.5,518.8 L551.4,518.8 L548.3,521.1 L549.5,524.8 L546.3,522.5 L543.1,524.8 L544.3,521.1 L541.2,518.8 L545.1,518.8 Z" fill="#ffff00" stroke="#008000" stroke-width="1.1" stroke-linejoin="round"/>
</g>
<path d="M241.55,157 L241.55,653.9 M241,653.4 L753,653.4" fill="none" stroke="#000" stroke-width="1.3"/>
<rect x="242.0" y="54.1" width="620.1" height="103.2" fill="none" stroke="#000" stroke-width="2"/>
<path d="M243,87.5 L751,87.5 M243,122.5 L751,122.5" stroke="#777" stroke-width="1" shape-rendering="crispEdges"/>
<path d="M242,157.6 L862,157.6" stroke="#000" stroke-width="3"/>
<path d="M752.6,54 L752.6,654" stroke="#000" stroke-width="3"/>
<path d="M862,157 L862,653 L752,653" fill="none" stroke="#000" stroke-width="2"/>
<path d="M789.7,158 L789.7,652 M825.7,158 L825.7,652" stroke="#606060" stroke-width="1"/>
<rect x="158.6" y="690.4" width="787" height="38" fill="none" stroke="#111" stroke-width="1.1"/>
<g style="filter:grayscale(1)">
<text x="245.07" y="45.7" font-size="23.983" textLength="86.432" lengthAdjust="spacingAndGlyphs">SAETTA</text>
<text x="339.06" y="45.7" font-size="23.983" textLength="101.037" lengthAdjust="spacingAndGlyphs">Realtime</text>
<text x="448.01" y="45.7" font-size="23.983" textLength="107.04" lengthAdjust="spacingAndGlyphs">Lightning</text>
<text x="563.06" y="45.7" font-size="23.983" textLength="97.746" lengthAdjust="spacingAndGlyphs">Mapping</text>
<text x="669.39" y="45.7" font-size="23.983" textLength="61.372" lengthAdjust="spacingAndGlyphs">Array</text>
<text x="738.64" y="45.7" font-size="23.983" textLength="8.085" lengthAdjust="spacingAndGlyphs">-</text>
<text x="754.69" y="45.7" font-size="23.983" textLength="101.693" lengthAdjust="spacingAndGlyphs">25/09/30</text>
<text x="433.3" y="718" font-size="19.477" textLength="42.81" lengthAdjust="spacingAndGlyphs">from</text>
<text x="483.53" y="718" font-size="19.477" textLength="83.036" lengthAdjust="spacingAndGlyphs">16:50:00</text>
<text x="573.45" y="718" font-size="19.477" textLength="17.601" lengthAdjust="spacingAndGlyphs">to</text>
<text x="598.74" y="718" font-size="19.477" textLength="82.948" lengthAdjust="spacingAndGlyphs">16:59:59</text>
<text class="s" x="218.95" y="52" font-size="11.192" textLength="11.77" lengthAdjust="spacingAndGlyphs">15</text>
<text class="s" x="218.78" y="87" font-size="11.192" textLength="12.675" lengthAdjust="spacingAndGlyphs">10</text>
<text class="s" x="220.7" y="122" font-size="11.483" textLength="5.535" lengthAdjust="spacingAndGlyphs">5</text>
<text class="s" x="220.7" y="157" font-size="11.483" textLength="5.535" lengthAdjust="spacingAndGlyphs">0</text>
<text x="185.94" y="105" font-size="13.081" textLength="18.75" lengthAdjust="spacingAndGlyphs">Km</text>
<text class="s" x="753.7" y="667" font-size="11.047" textLength="5.427" lengthAdjust="spacingAndGlyphs">0</text>
<text class="s" x="789.5" y="667" font-size="11.047" textLength="5.632" lengthAdjust="spacingAndGlyphs">5</text>
<text class="s" x="824.83" y="667" font-size="11.047" textLength="11.952" lengthAdjust="spacingAndGlyphs">10</text>
<text class="s" x="861.55" y="667" font-size="11.047" textLength="11.729" lengthAdjust="spacingAndGlyphs">15</text>
<text x="807.04" y="676" font-size="13.081" textLength="18.75" lengthAdjust="spacingAndGlyphs">Km</text>
<text class="s" x="209.2" y="655" font-size="11.628" textLength="25.461" lengthAdjust="spacingAndGlyphs">40°N</text>
<text class="s" x="199.4" y="608" font-size="11.628" textLength="34.965" lengthAdjust="spacingAndGlyphs">40.5°N</text>
<text class="s" x="209.2" y="559" font-size="11.628" textLength="25.461" lengthAdjust="spacingAndGlyphs">41°N</text>
<text class="s" x="199.4" y="510" font-size="11.628" textLength="34.965" lengthAdjust="spacingAndGlyphs">41.5°N</text>
<text class="s" x="209.2" y="462" font-size="11.628" textLength="25.461" lengthAdjust="spacingAndGlyphs">42°N</text>
<text class="s" x="199.4" y="412" font-size="11.628" textLength="34.965" lengthAdjust="spacingAndGlyphs">42.5°N</text>
<text class="s" x="209.2" y="363" font-size="11.628" textLength="25.461" lengthAdjust="spacingAndGlyphs">43°N</text>
<text class="s" x="199.4" y="312" font-size="11.628" textLength="34.965" lengthAdjust="spacingAndGlyphs">43.5°N</text>
<text class="s" x="209.2" y="262" font-size="11.628" textLength="25.461" lengthAdjust="spacingAndGlyphs">44°N</text>
<text class="s" x="199.4" y="211" font-size="11.628" textLength="34.965" lengthAdjust="spacingAndGlyphs">44.5°N</text>
<text class="s" x="233.35" y="667.0" font-size="11.628" textLength="16.588" lengthAdjust="spacingAndGlyphs">5°E</text>
<text class="s" x="264.97" y="667.0" font-size="11.628" textLength="27.04" lengthAdjust="spacingAndGlyphs">5.5°E</text>
<text class="s" x="306.33" y="667.0" font-size="11.628" textLength="16.687" lengthAdjust="spacingAndGlyphs">6°E</text>
<text class="s" x="337.94" y="667.0" font-size="11.628" textLength="27.142" lengthAdjust="spacingAndGlyphs">6.5°E</text>
<text class="s" x="379.41" y="667.0" font-size="11.628" textLength="16.588" lengthAdjust="spacingAndGlyphs">7°E</text>
<text class="s" x="411.02" y="667.0" font-size="11.628" textLength="27.04" lengthAdjust="spacingAndGlyphs">7.5°E</text>
<text class="s" x="452.39" y="667.0" font-size="11.628" textLength="16.687" lengthAdjust="spacingAndGlyphs">8°E</text>
<text class="s" x="484.0" y="667.0" font-size="11.628" textLength="27.142" lengthAdjust="spacingAndGlyphs">8.5°E</text>
<text class="s" x="525.42" y="667.0" font-size="11.628" textLength="16.687" lengthAdjust="spacingAndGlyphs">9°E</text>
<text class="s" x="557.04" y="667.0" font-size="11.628" textLength="27.142" lengthAdjust="spacingAndGlyphs">9.5°E</text>
<text class="s" x="594.39" y="667.0" font-size="11.628" textLength="24.284" lengthAdjust="spacingAndGlyphs">10°E</text>
<text class="s" x="626.0" y="667.0" font-size="11.628" textLength="33.8" lengthAdjust="spacingAndGlyphs">10.5°E</text>
<text class="s" x="667.42" y="667.0" font-size="11.628" textLength="24.284" lengthAdjust="spacingAndGlyphs">11°E</text>
<text class="s" x="699.03" y="667.0" font-size="11.628" textLength="33.8" lengthAdjust="spacingAndGlyphs">11.5°E</text>
</g>
</svg>
</body></html>
